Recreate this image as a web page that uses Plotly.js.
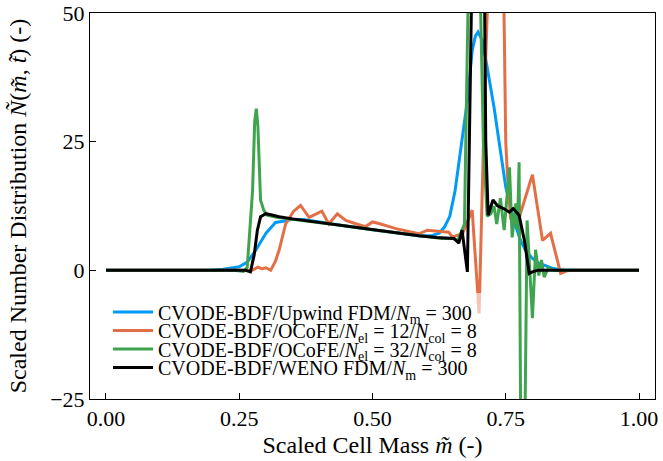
<!DOCTYPE html>
<html>
<head>
<meta charset="utf-8">
<script src="https://cdn.plot.ly/plotly-3.0.1.min.js"></script>
<style>html,body{margin:0;padding:0;background:#fff;}#chart{width:663px;height:461px;}</style>
</head>
<body>
<div id="chart"></div>
<script>
// Upwind FDM (blue)
const upwindX = [0, 0.10, 0.18, 0.20, 0.22, 0.235, 0.25, 0.265, 0.281, 0.30, 0.318, 0.335, 0.35, 0.37, 0.40, 0.45, 0.50, 0.55, 0.587, 0.61, 0.625, 0.635, 0.645, 0.655, 0.668, 0.678, 0.687, 0.693, 0.698, 0.706, 0.715, 0.728, 0.737, 0.75, 0.765, 0.777, 0.787, 0.80, 0.812, 0.825, 0.837, 0.85, 0.86, 0.9, 1.0];
const upwindY = [0, 0, 0.02, 0.08, 0.2, 0.4, 0.7, 1.6, 3.9, 7.2, 9.3, 9.6, 9.9, 9.9, 9.4, 8.6, 7.9, 7.2, 6.7, 6.7, 7.2, 8.4, 10.5, 15.5, 25, 33, 42.7, 45.5, 46.3, 44.7, 39.5, 31.7, 25.3, 16.2, 9.7, 6.0, 3.9, 2.3, 1.4, 0.8, 0.4, 0.15, 0.05, 0, 0];

// OCoFE Nel=12 (orange)
const ocofe12X = [0, 0.24, 0.262, 0.274, 0.285, 0.293, 0.30, 0.309, 0.318, 0.325, 0.337, 0.352, 0.365, 0.381, 0.405, 0.418, 0.434, 0.45, 0.47, 0.487, 0.50, 0.512, 0.544, 0.587, 0.603, 0.625, 0.643, 0.65, 0.669, 0.687, 0.700, 0.712, 0.722, 0.737, 0.747, 0.750, 0.753, 0.759, 0.768, 0.776, 0.80, 0.819, 0.834, 0.853, 0.862, 0.87, 1.0];
const ocofe12Y = [0, 0, 0, 0, 0.6, 0.3, 0.5, 0, 1.8, 4.0, 9.0, 11.5, 12.6, 10.3, 11.5, 9.0, 11.0, 9.7, 9.0, 8.5, 9.4, 9.1, 8.1, 7.1, 7.8, 7.5, 7.4, 6.5, 7.1, 11.7, -8.4, 40, 90, 117, 48, 25, 18.8, 10.1, 9.5, 10.5, 18.6, 5.8, 7.2, -0.6, -0.2, 0, 0];

// OCoFE Nel=32 (green)
const ocofe32X = [0, 0.24, 0.258, 0.265, 0.275, 0.279, 0.282, 0.285, 0.290, 0.296, 0.302, 0.32, 0.35, 0.40, 0.45, 0.50, 0.55, 0.60, 0.63, 0.65, 0.66, 0.6725, 0.679, 0.69, 0.70, 0.703, 0.708, 0.715, 0.722, 0.728, 0.733, 0.740, 0.747, 0.757, 0.762, 0.769, 0.772, 0.775, 0.781, 0.790, 0.800, 0.806, 0.812, 0.817, 0.822, 0.83, 0.84, 1.0];
const ocofe32Y = [0, 0, -0.2, 0.6, 15.5, 29, 31.4, 28, 13.6, 11.7, 10.7, 10.3, 9.9, 9.3, 8.6, 7.9, 7.2, 6.5, 6.2, 6.2, 5.8, 9.0, 50, 80, 75, 50, 25, 10.5, 11, 12.5, 9.0, 14, 7.8, 20, 6.4, 13, 8.0, 21, -80, 9.7, -9.3, 4.0, -1.0, 2.0, -1.3, 0.5, 0, 0];

// WENO FDM (black)
const wenoX = [0, 0.20, 0.262, 0.271, 0.278, 0.284, 0.29, 0.30, 0.312, 0.325, 0.35, 0.40, 0.45, 0.50, 0.55, 0.587, 0.62, 0.644, 0.653, 0.662, 0.668, 0.678, 0.6855, 0.692, 0.704, 0.7105, 0.7125, 0.717, 0.726, 0.734, 0.746, 0.757, 0.764, 0.775, 0.785, 0.794, 0.80, 0.81, 0.9, 1.0];
const wenoY = [0, 0, 0, -0.3, 3.0, 7.8, 10.4, 11.0, 10.7, 10.4, 10.0, 9.3, 8.6, 7.9, 7.2, 6.7, 6.4, 6.2, 6.2, 5.3, 7.8, -0.3, 50, 95, 95, 50, 25, 10.7, 13.7, 12.6, 12.0, 11.3, 12.0, 10.7, 5.8, -0.6, -0.3, 0, 0, 0];

const seriesNames = [
  'CVODE-BDF/Upwind FDM/<i>N</i><sub>m</sub> = 300',
  'CVODE-BDF/OCoFE/<i>N</i><sub>el</sub> = 12/<i>N</i><sub>col</sub> = 8',
  'CVODE-BDF/OCoFE/<i>N</i><sub>el</sub> = 32/<i>N</i><sub>col</sub> = 8',
  'CVODE-BDF/WENO FDM/<i>N</i><sub>m</sub> = 300'
];
const xTickVals = [0, 0.25, 0.5, 0.75, 1.0];
const xTickText = ['0.00', '0.25', '0.50', '0.75', '1.00'];
const yTickVals = [-25, 0, 25, 50];

const colors = ['#009AFA', '#E36F47', '#3EA44E', '#000000'];
const xs = [upwindX, ocofe12X, ocofe32X, wenoX];
const ys = [upwindY, ocofe12Y, ocofe32Y, wenoY];
const legendIds = ['legend', 'legend2', 'legend3', 'legend4'];

const FONT = 'Liberation Serif, Times New Roman, serif';
const traces = xs.map((x, i) => ({
  x: x, y: ys[i], type: 'scatter', mode: 'lines',
  name: seriesNames[i],
  line: {color: colors[i], width: 3},
  legend: legendIds[i]
}));

// plot area: left 90, right 655, top 13, bottom 399
const legendYs = [312, 330.5, 349, 367.5].map(py => (399 - py) / 386);
const legendX = (108 - 90) / 565;

const layout = {
  width: 663, height: 461,
  margin: {l: 90, r: 8, t: 13, b: 62},
  paper_bgcolor: '#fff', plot_bgcolor: '#fff',
  font: {family: FONT, color: '#000', size: 22},
  showlegend: true,
  xaxis: {
    range: [-0.03, 1.03],
    tickvals: xTickVals, ticktext: xTickText,
    ticks: 'inside', ticklen: 6, tickwidth: 1, tickcolor: '#000',
    showline: true, mirror: true, linecolor: '#000', linewidth: 1,
    showgrid: false, zeroline: false,
    tickfont: {family: FONT, size: 22, color: '#000'},
    title: {text: 'Scaled Cell Mass <i>m̃</i> (-)', font: {family: FONT, size: 24, color: '#000'}, standoff: 5}
  },
  yaxis: {
    range: [-25, 50],
    tickvals: yTickVals,
    ticks: 'inside', ticklen: 6, tickwidth: 1, tickcolor: '#000',
    showline: true, mirror: true, linecolor: '#000', linewidth: 1,
    showgrid: false, zeroline: false,
    tickfont: {family: FONT, size: 22, color: '#000'},
    title: {text: 'Scaled Number Distribution <i>Ñ</i>(<i>m̃</i>, <i>t̃</i>) (-)', font: {family: FONT, size: 24, color: '#000'}, standoff: 16}
  },
  shapes: [{
    type: 'rect', xref: 'paper', yref: 'paper', layer: 'above',
    x0: (100 - 90) / 565, x1: (492 - 90) / 565,
    y0: (399 - 381) / 386, y1: (399 - 293) / 386,
    fillcolor: 'rgba(255,255,255,0.6)', line: {width: 0}
  }]
};
legendIds.forEach((id, i) => {
  layout[id] = {
    x: legendX, y: legendYs[i], xanchor: 'left', yanchor: 'middle',
    bgcolor: 'rgba(0,0,0,0)', borderwidth: 0,
    font: {family: FONT, size: 20, color: '#000'},
    itemwidth: 40, tracegroupgap: 0
  };
});

Plotly.newPlot('chart', traces, layout, {displayModeBar: false, staticPlot: true});
</script>
</body>
</html>
